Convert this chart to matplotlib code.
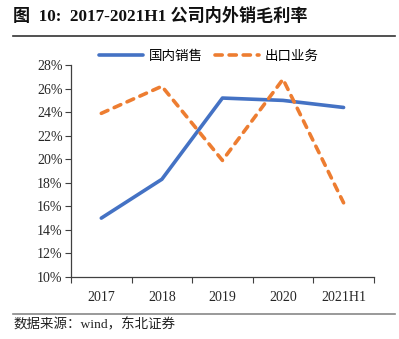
import matplotlib
matplotlib.use("Agg")
import matplotlib.pyplot as plt
from matplotlib.lines import Line2D
from matplotlib.ticker import FuncFormatter

# Gross margin by segment
years = ["2017", "2018", "2019", "2020", "2021H1"]
domestic = [15.0, 18.3, 25.2, 25.0, 24.4]
export = [23.9, 26.2, 19.9, 26.8, 16.3]

yticks = [10, 12, 14, 16, 18, 20, 22, 24, 26, 28]

serif_cjk = ["Liberation Serif", "Noto Sans CJK SC"]
cjk = ["Noto Sans CJK SC", "Liberation Serif"]

fig = plt.figure(figsize=(3.99, 3.39), dpi=100)
ax = fig.add_axes([0.178, 0.183, 0.759, 0.625])

x = list(range(len(years)))
blue = "#4472C4"
orange = "#ED7D31"
ax.plot(x, domestic, color=blue, lw=2.6, solid_capstyle="round", label="国内销售")
ax.plot(x, export, color=orange, lw=2.6, ls=(0, (2.0, 1.9)), dash_capstyle="round",
        label="出口业务")

ax.set_xlim(-0.5, len(years) - 0.5)
ax.set_ylim(10, 28)
ax.set_yticks(yticks)
ax.yaxis.set_major_formatter(FuncFormatter(lambda v, p: f"{v:.0f}%"))
ax.set_xticks([i + 0.5 for i in range(-1, len(years))], minor=False)
ax.set_xticklabels([])
ax.set_xticks(x, minor=True)
ax.set_xticklabels(years, minor=True)
ax.tick_params(axis="x", which="major", direction="out", length=4, width=0.8, color="#404040")
ax.tick_params(axis="x", which="minor", length=0, pad=10, labelsize=10)
ax.tick_params(axis="y", direction="out", length=4, width=0.8, color="#404040", labelsize=10, pad=2)
for lab in ax.get_xticklabels(minor=True) + ax.get_yticklabels():
    lab.set_fontfamily("Liberation Serif")
    lab.set_color("#262626")

for s in ["top", "right"]:
    ax.spines[s].set_visible(False)
for s in ["left", "bottom"]:
    ax.spines[s].set_color("#404040")
    ax.spines[s].set_linewidth(0.9)

leg = ax.legend(loc="lower center", bbox_to_anchor=(0.455, 0.985), ncol=2, frameon=False,
                prop={"family": cjk, "size": 9.7}, handlelength=3.3, columnspacing=0.9,
                handletextpad=0.4, borderaxespad=0)

# Title, rules and source note
fig.text(0.033, 0.95, "图  10:  2017-2021H1 公司内外销毛利率", family=serif_cjk,
         fontsize=12.3, fontweight="bold", va="center", ha="left", color="#111111")
fig.add_artist(Line2D([0.033, 0.99], [0.894, 0.894], color="#333333", lw=1.2))
fig.add_artist(Line2D([0.033, 0.99], [0.074, 0.074], color="#888888", lw=1.2))
fig.text(0.033, 0.041, "数据来源：wind，东北证券", family=serif_cjk, fontsize=9.7,
         va="center", ha="left", color="#222222")

fig.savefig("out.png", dpi=100)
